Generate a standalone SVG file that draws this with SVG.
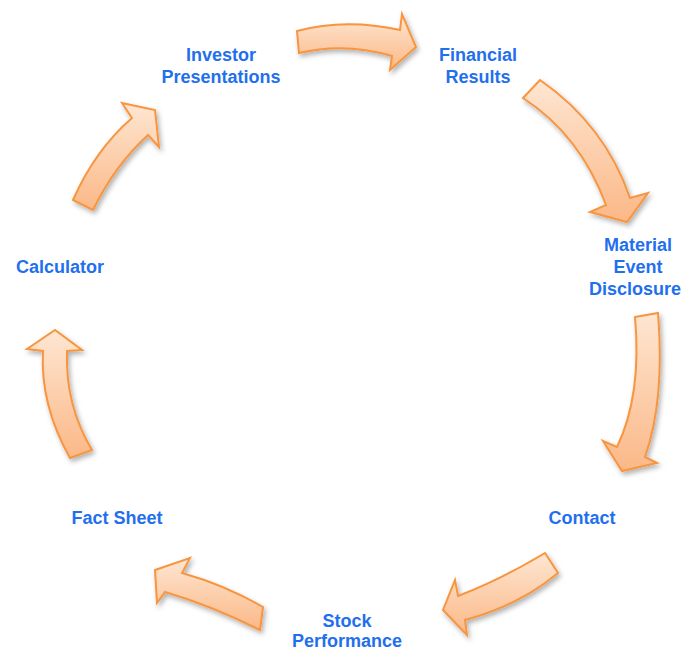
<svg xmlns="http://www.w3.org/2000/svg" width="683" height="651" viewBox="0 0 683 651">
<style>
.arrow{fill:url(#g);stroke:#f7953f;stroke-width:2;stroke-linejoin:miter;filter:url(#sh)}
.lbl{font-family:"Liberation Sans",Arial,sans-serif;font-weight:bold;font-size:18px;fill:#1f6fee;text-anchor:middle}
</style>
<defs>
<linearGradient id="g" x1="0" y1="0" x2="0" y2="1">
<stop offset="0" stop-color="#fee6d2"/>
<stop offset="1" stop-color="#fbb887"/>
</linearGradient>
<filter id="sh" x="-20%" y="-20%" width="150%" height="150%">
<feDropShadow dx="2" dy="3" stdDeviation="2.5" flood-color="#000" flood-opacity="0.3"/>
</filter>
</defs>
<rect width="683" height="651" fill="#fff"/>
<g id="connectors">
<path class="arrow" d="M297,31 Q345,18 400,30 L402,14 L416,47 L390,70 L392,56 Q345,42 299,53 Z"/>
<path class="arrow" d="M523,98 L540,80 Q605,125 630,198 L648,193 L627,222 L590,212 L606,205 Q580,135 523,98 Z"/>
<path class="arrow" d="M635,317 L658,313 Q665,400 645,457 L657,463 L622,471 L603,441 L617,447 Q642,395 635,317 Z"/>
<path class="arrow" d="M545,553 Q500,580 458,596 L455,580 L443,610 L467,635 L465,620 Q520,605 558,573 Z"/>
<path class="arrow" d="M263,607 Q225,585 182,573 L190,558 L155,570 L157,603 L165,592 Q210,605 260,630 Z"/>
<path class="arrow" d="M70,458 Q40,405 43,351 L27,349 L55,330 L82,350 L67,351 Q65,405 92,450 Z"/>
<path class="arrow" d="M73,200 Q95,150 132,118 L122,103 L155,110 L159,147 L148,135 Q115,165 93,210 Z"/>
</g>
<g id="investor"><text class="lbl" x="221" y="61">Investor</text><text class="lbl" x="221" y="83">Presentations</text></g>
<g id="financial"><text class="lbl" x="478" y="61">Financial</text><text class="lbl" x="478" y="83">Results</text></g>
<g id="material"><text class="lbl" x="638" y="251">Material</text><text class="lbl" x="638" y="273">Event</text><text class="lbl" x="635" y="295">Disclosure</text></g>
<g id="contact"><text class="lbl" x="582" y="524">Contact</text></g>
<g id="stock"><text class="lbl" x="347" y="627">Stock</text><text class="lbl" x="347" y="647">Performance</text></g>
<g id="factsheet"><text class="lbl" x="117" y="524">Fact Sheet</text></g>
<g id="calculator"><text class="lbl" x="60" y="273">Calculator</text></g>
</svg>
